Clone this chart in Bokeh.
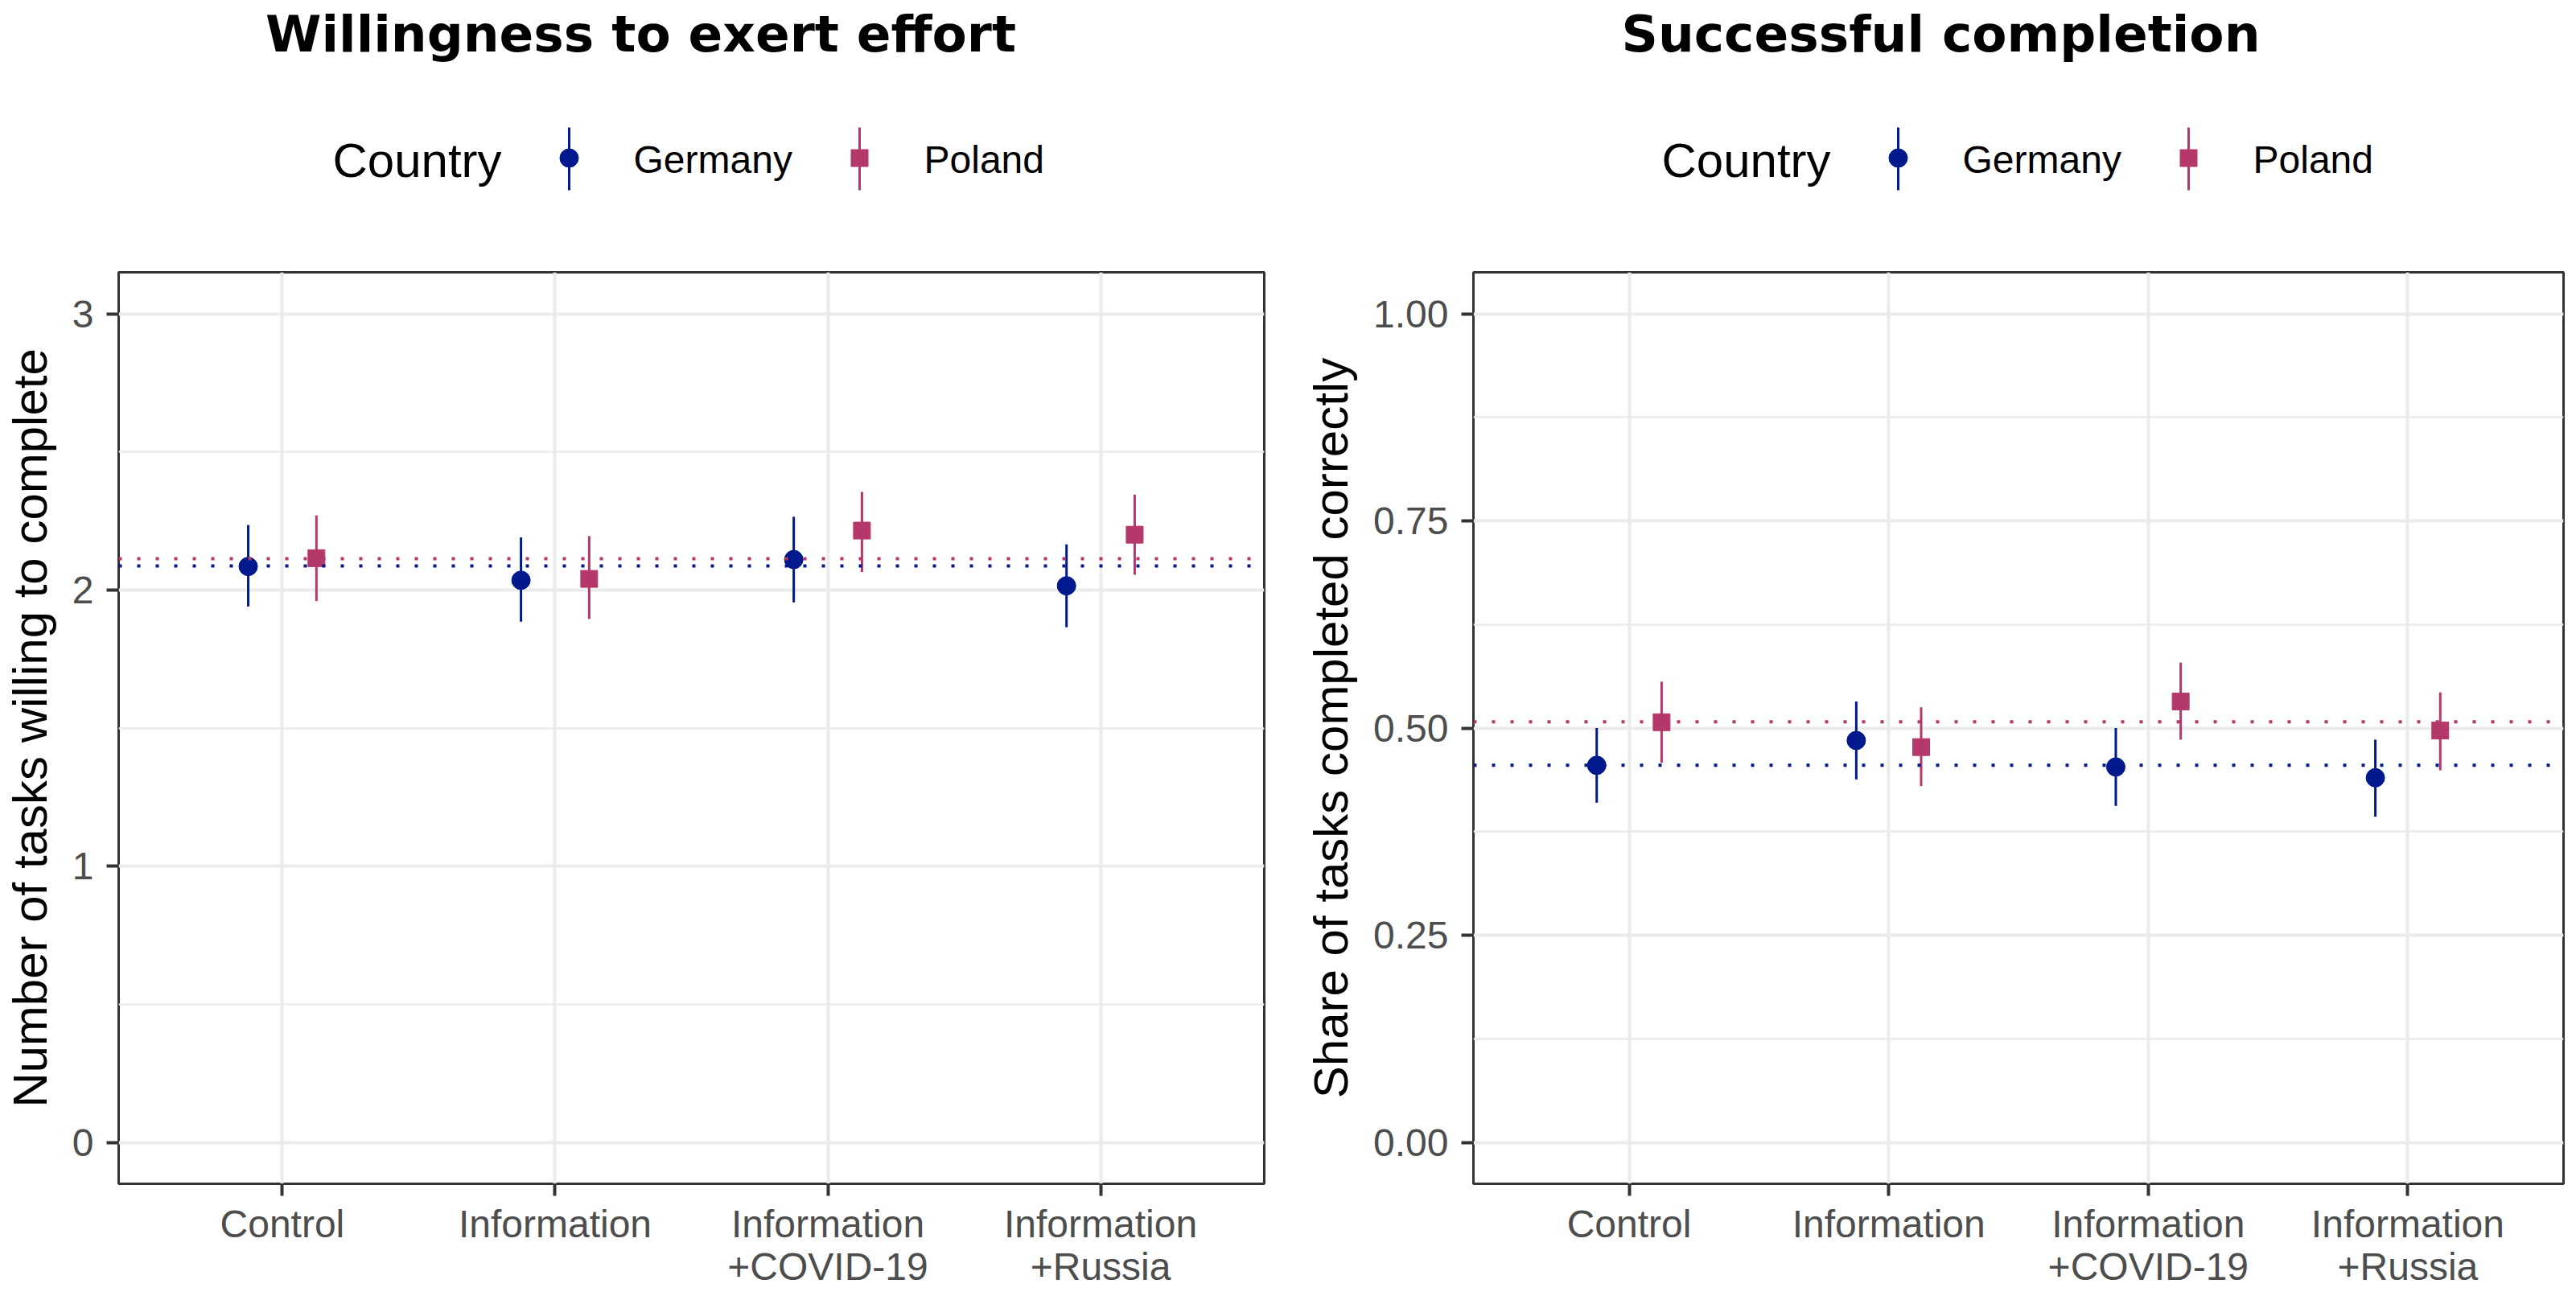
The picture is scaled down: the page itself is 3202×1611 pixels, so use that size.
from bokeh.plotting import figure
from bokeh.models import Range1d, FactorRange, FixedTicker, NumeralTickFormatter, Span, ColumnDataSource
from bokeh.layouts import column, row
from bokeh.transform import dodge
from bokeh.core.properties import value
from bokeh.embed import file_html
from bokeh.resources import INLINE

# ---------------- data ----------------
categories = ["Control", "Information", "Information\n+COVID-19", "Information\n+Russia"]
countries = ["Germany", "Poland"]
legend_title = "Country"
panel_titles = ["Willingness to exert effort", "Successful completion"]
y_titles = ["Number of tasks willing to complete", "Share of tasks completed correctly"]

effort_germany = [2.085, 2.035, 2.110, 2.015]
effort_germany_lo = [1.940, 1.885, 1.955, 1.865]
effort_germany_hi = [2.235, 2.190, 2.265, 2.165]
effort_poland = [2.115, 2.040, 2.215, 2.200]
effort_poland_lo = [1.960, 1.895, 2.065, 2.055]
effort_poland_hi = [2.270, 2.195, 2.355, 2.345]
effort_mean = [2.087, 2.113]          # Germany, Poland (dotted reference lines)

success_germany = [0.455, 0.485, 0.453, 0.440]
success_germany_lo = [0.410, 0.438, 0.406, 0.393]
success_germany_hi = [0.500, 0.532, 0.500, 0.486]
success_poland = [0.507, 0.477, 0.532, 0.497]
success_poland_lo = [0.458, 0.430, 0.486, 0.449]
success_poland_hi = [0.556, 0.525, 0.579, 0.543]
success_mean = [0.455, 0.5075]

effort_ticks = [0, 1, 2, 3]
effort_minor = [0.5, 1.5, 2.5]
success_ticks = [0, 0.25, 0.5, 0.75, 1.0]
success_minor = [0.125, 0.375, 0.625, 0.875]

# ---------------- style ----------------
colors = ["#001A8D", "#B5386B"]
markers = ["circle", "square"]
marker_sizes = [23, 21]
dodge_offsets = [-0.125, 0.125]
FONT = "Liberation Sans"
TITLE_FONT = "DejaVu Sans"
GRID = "#EBEBEB"
DARK = "#333333"
TICK_TXT = "#4D4D4D"

FRAME_H = 1133
BORDER_TOP = 10
BORDER_BOTTOM = 136
PLOT_H = BORDER_TOP + FRAME_H + BORDER_BOTTOM


def make_panel(series, means, ylim, ticks, minor, fmt, ytitle, fw, bl, br):
    p = figure(width=bl + fw + br, height=PLOT_H,
               x_range=FactorRange(factors=categories, range_padding=0.05, range_padding_units="percent"),
               y_range=Range1d(*ylim),
               output_backend="svg", toolbar_location=None,
               min_border_left=bl, min_border_right=br,
               min_border_top=BORDER_TOP, min_border_bottom=BORDER_BOTTOM,
               background_fill_color="white", border_fill_color="white")
    p.outline_line_color = DARK
    p.outline_line_width = 3

    p.xgrid.grid_line_color = GRID
    p.xgrid.grid_line_width = 4
    p.ygrid.grid_line_color = GRID
    p.ygrid.grid_line_width = 4
    p.ygrid.minor_grid_line_color = GRID
    p.ygrid.minor_grid_line_width = 2.5

    p.yaxis.ticker = FixedTicker(ticks=ticks, minor_ticks=minor)
    if fmt is not None:
        p.yaxis.formatter = fmt

    for ax in (p.xaxis[0], p.yaxis[0]):
        ax.axis_line_color = None
        ax.major_tick_line_color = DARK
        ax.major_tick_line_width = 4
        ax.major_tick_out = 15
        ax.major_tick_in = 0
        ax.minor_tick_line_color = None
        ax.major_label_text_font = FONT
        ax.major_label_text_font_size = "48px"
        ax.major_label_text_color = TICK_TXT
        ax.axis_label_text_font = FONT
        ax.axis_label_text_font_size = "60px"
        ax.axis_label_text_font_style = "normal"
        ax.axis_label_text_color = "black"
    p.xaxis.major_label_standoff = 8
    p.xaxis.major_label_text_line_height = 1.0
    p.yaxis.major_label_standoff = 16
    p.yaxis.axis_label = ytitle
    p.yaxis.axis_label_standoff = 16

    for (mean, lo, hi), col, mk, ms, off in zip(series, colors, markers, marker_sizes, dodge_offsets):
        src = ColumnDataSource(dict(cat=categories, mean=mean, lo=lo, hi=hi))
        xd = dodge("cat", off, range=p.x_range)
        p.segment(x0=xd, y0="lo", x1=xd, y1="hi", source=src, line_color=col, line_width=3)
        p.scatter(x=xd, y="mean", source=src, marker=mk, size=ms, fill_color=col, line_color=col)

    for m, col in zip(means, colors):
        p.add_layout(Span(location=m, dimension="width", line_color=col, line_width=4,
                          line_dash="4 19"))
    return p


p1 = make_panel([(effort_germany, effort_germany_lo, effort_germany_hi),
                 (effort_poland, effort_poland_lo, effort_poland_hi)],
                effort_mean, (-0.15, 3.15), effort_ticks, effort_minor, None,
                y_titles[0], 1425, 146, 33)
p2 = make_panel([(success_germany, success_germany_lo, success_germany_hi),
                 (success_poland, success_poland_lo, success_poland_hi)],
                success_mean, (-0.05, 1.05), success_ticks, success_minor,
                NumeralTickFormatter(format="0.00"),
                y_titles[1], 1355, 227, 12)

# ---------------- header strip: titles + legends (page-pixel layout) ----------------
TOTAL_W = p1.width + p2.width
HEAD_H = 328
top = figure(width=TOTAL_W, height=HEAD_H, x_range=Range1d(0, TOTAL_W),
             y_range=Range1d(HEAD_H, 0), output_backend="svg", toolbar_location=None,
             x_axis_location=None, y_axis_location=None, min_border=0,
             background_fill_color="white", border_fill_color="white")
top.outline_line_color = None
top.grid.visible = False

title_centers = [796, 2412]
legend_starts = [413, 2065]
for tc, ls, ttl in zip(title_centers, legend_starts, panel_titles):
    top.text(x=[tc], y=[42], text=[ttl], text_font=value(TITLE_FONT), text_font_style="bold",
             text_font_size=value("63px"), text_align="center", text_baseline="alphabetic",
             text_color="black")
    top.text(x=[ls], y=[199], text=[legend_title], text_font=value(FONT),
             text_font_size=value("60px"), text_align="left", text_baseline="alphabetic",
             text_color="black")
    for i, (name, col, mk, ms) in enumerate(zip(countries, colors, markers, marker_sizes)):
        kx = ls + 294 + i * 361
        top.segment(x0=[kx], y0=[158], x1=[kx], y1=[236], line_color=col, line_width=3)
        top.scatter(x=[kx], y=[196], marker=mk, size=ms, fill_color=col, line_color=col)
        top.text(x=[kx + 80], y=[198], text=[name], text_font=value(FONT),
                 text_font_size=value("48px"), text_align="left", text_baseline="alphabetic",
                 text_color="black")

layout = column(top, row(p1, p2, spacing=0), spacing=0)
open("out.html", "w").write(file_html(layout, INLINE))
